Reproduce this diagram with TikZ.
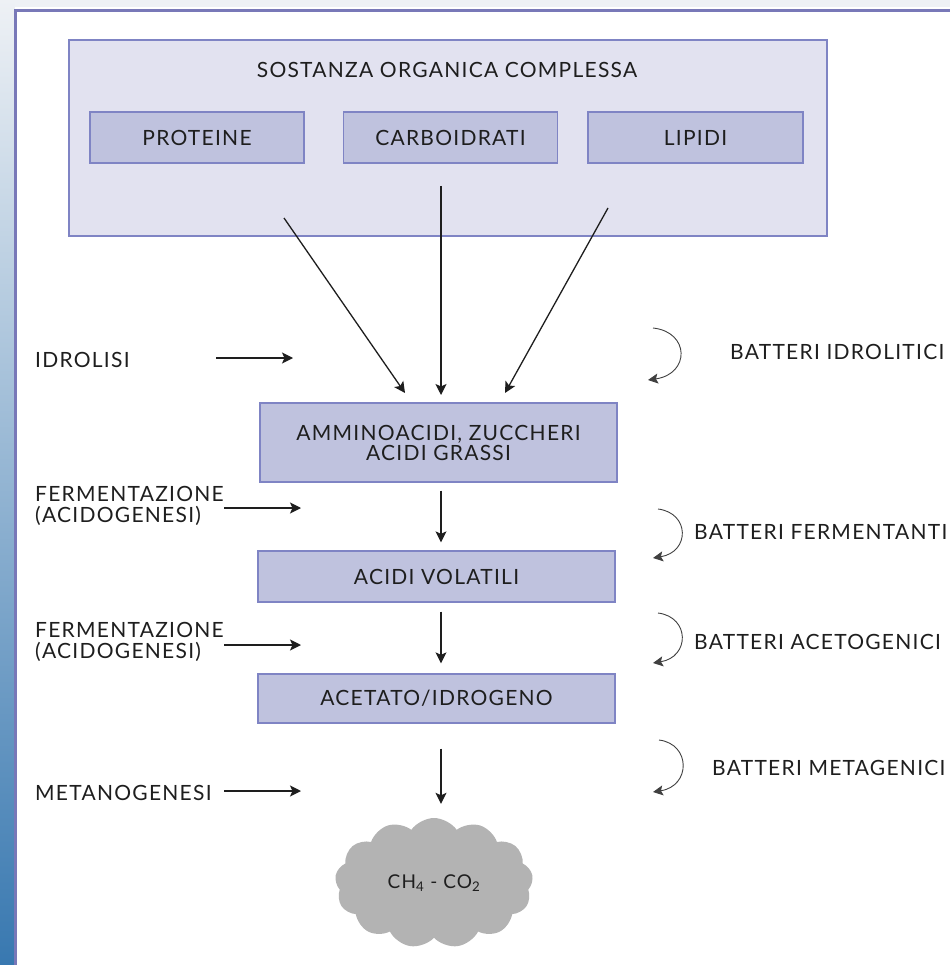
\documentclass[tikz,border=0pt]{standalone}
\usepackage{fontspec}
\setmainfont{Lato}[LetterSpace=6]
\usetikzlibrary{arrows.meta,shapes.symbols,calc}
\definecolor{bigfill}{HTML}{E2E2F0}
\definecolor{subfill}{HTML}{BFC2DE}
\definecolor{boxline}{HTML}{7F84C4}
\definecolor{framecol}{HTML}{7878B8}
\definecolor{stripTop}{HTML}{EEF1F5}
\definecolor{stripBot}{HTML}{3878B0}
\definecolor{cloudfill}{HTML}{B3B3B3}
\definecolor{ink}{HTML}{1E1E1E}
\tikzset{
  bigbox/.style={fill=bigfill,draw=boxline,line width=1.3pt,inner sep=0pt},
  subbox/.style={fill=subfill,draw=boxline,line width=1.3pt,inner sep=0pt,align=center,text=ink,font=\fontsize{21}{20}\selectfont},
  lbl/.style={inner sep=0pt,text=ink,font=\fontsize{21}{21}\selectfont,align=left},
  arr/.style={draw=ink,line width=1.3pt,-{Stealth[length=11pt,width=11pt,inset=2.5pt]}},
  carr/.style={draw=ink!85,line width=0.9pt,-{Stealth[length=10pt,width=10pt,inset=2pt]}},
}
\begin{document}
\begin{tikzpicture}[x=1pt,y=-1pt]
\useasboundingbox (0,0) rectangle (950,965);
% background strips and frame
\fill[stripTop] (0,0) rectangle (950,7);
\shade[top color=stripTop,bottom color=stripBot] (0,0) rectangle (14.5,965);
\draw[framecol,line width=3pt] (15.5,965) -- (15.5,10.8) -- (950,10.8);

% boxes
\node[bigbox,minimum width=758pt,minimum height=196pt] (big) at (448,138) {};
\node[lbl] (title) at (447,70) {SOSTANZA ORGANICA COMPLESSA};
\node[subbox,minimum width=214pt,minimum height=51pt] (prot) at (197,137.5) {PROTEINE};
\node[subbox,minimum width=214pt,minimum height=51pt] (carb) at (450.5,137.5) {CARBOIDRATI};
\node[subbox,minimum width=215pt,minimum height=51pt] (lip) at (695.5,137.5) {LIPIDI};

\node[subbox,minimum width=357pt,minimum height=79pt] (amm) at (438.5,442.5) {AMMINOACIDI, ZUCCHERI\\ACIDI GRASSI};
\node[subbox,minimum width=357pt,minimum height=51pt] (vol) at (436.5,576.5) {ACIDI VOLATILI};
\node[subbox,minimum width=357pt,minimum height=49pt] (acet) at (436.5,698.5) {ACETATO/IDROGENO};

\node[cloud,cloud puffs=13,cloud puff arc=110,aspect=1.5,fill=cloudfill,draw=none,
      minimum width=198pt,minimum height=130pt,inner sep=0pt,text=ink,
      font=\fontsize{19}{19}\selectfont] (gas) at (434,883) {CH\textsubscript{4} - CO\textsubscript{2}};

% arrows from organic matter
\coordinate (p1) at (284,218);
\coordinate (p2) at (441,186);
\coordinate (p3) at (608,208);
\coordinate (q1) at (405,393);
\coordinate (q2) at (441,395);
\coordinate (q3) at (505,393);
\draw[arr] (p1) -- (q1);
\draw[arr] (p2) -- (q2);
\draw[arr] (p3) -- (q3);

% vertical chain
\draw[arr] ([xshift=2.5pt,yshift=-8pt]amm.south) -- ([xshift=4.5pt,yshift=8pt]vol.north);
\draw[arr] ([xshift=4.5pt,yshift=-9pt]vol.south) -- ([xshift=4.5pt,yshift=10pt]acet.north);
\draw[arr] ([xshift=4.5pt,yshift=-25pt]acet.south) -- ([xshift=7pt,yshift=14pt]gas.north);

% left labels
\node[lbl,anchor=west] (l1) at (35,360) {IDROLISI};
\node[lbl,anchor=west] (l2) at (35,506) {FERMENTAZIONE\\(ACIDOGENESI)};
\node[lbl,anchor=west] (l3) at (35,642) {FERMENTAZIONE\\(ACIDOGENESI)};
\node[lbl,anchor=west] (l4) at (35,793) {METANOGENESI};
\coordinate (a1s) at (216,358); \coordinate (a1e) at (293,358);
\coordinate (a2s) at (224,508); \coordinate (a2e) at (301,508);
\coordinate (a3s) at (224,645); \coordinate (a3e) at (301,645);
\coordinate (a4s) at (224,791); \coordinate (a4e) at (301,791);
\draw[arr] (a1s) -- (a1e);
\draw[arr] (a2s) -- (a2e);
\draw[arr] (a3s) -- (a3e);
\draw[arr] (a4s) -- (a4e);

% right labels
\node[lbl,anchor=west] (r1) at (730,352) {BATTERI IDROLITICI};
\node[lbl,anchor=west] (r2) at (694,532) {BATTERI FERMENTANTI};
\node[lbl,anchor=west] (r3) at (694,642) {BATTERI ACETOGENICI};
\node[lbl,anchor=west] (r4) at (712,768) {BATTERI METAGENICI};
\coordinate (b1s) at (653,328); \coordinate (b1e) at (648,380);
\coordinate (b2s) at (658,509); \coordinate (b2e) at (653,558);
\coordinate (b3s) at (658,613); \coordinate (b3e) at (653,663);
\coordinate (b4s) at (659,740); \coordinate (b4e) at (653,792);
\draw[carr] (b1s) .. controls (690,332) and (690,374) .. (b1e);
\draw[carr] (b2s) .. controls (690,513) and (690,552) .. (b2e);
\draw[carr] (b3s) .. controls (690,617) and (690,657) .. (b3e);
\draw[carr] (b4s) .. controls (691,744) and (691,786) .. (b4e);
\end{tikzpicture}
\end{document}
